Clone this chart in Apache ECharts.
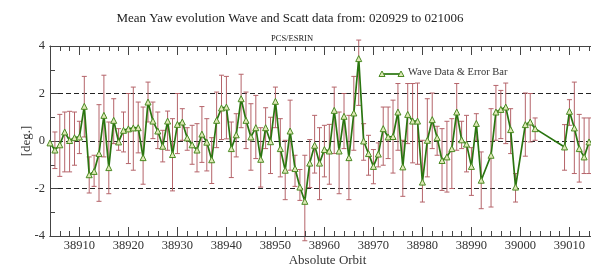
<!DOCTYPE html>
<html>
<head>
<meta charset="utf-8">
<script src="https://cdn.jsdelivr.net/npm/echarts@6/dist/echarts.min.js"></script>
<style>html,body{margin:0;padding:0;background:#fff;}#c{width:591px;height:268px;}</style>
</head>
<body>
<div id="c"></div>
<script>
var orbits = [38904,38905,38906,38907,38908,38909,38910,38911,38912,38913,38914,38915,38916,38917,38918,38919,38920,38921,38922,38923,38924,38925,38926,38927,38928,38929,38930,38931,38932,38933,38934,38935,38936,38937,38938,38939,38940,38941,38942,38943,38944,38945,38946,38947,38948,38949,38950,38951,38952,38953,38954,38955,38956,38957,38958,38959,38960,38961,38962,38963,38964,38965,38966,38967,38968,38969,38970,38971,38972,38973,38974,38975,38976,38977,38978,38979,38980,38981,38982,38983,38984,38985,38986,38987,38988,38989,38990,38991,38992,38994,38995,38996,38997,38998,38999,39001,39002,39003,39009,39010,39011,39012,39013,39014];
var yaw = [-0.08,-0.38,-0.16,0.38,0.02,0.14,0.17,1.46,-1.42,-1.28,-0.53,1.08,-1.12,0.87,-0.04,0.45,0.51,0.55,0.56,-0.70,1.64,0.84,0.42,-0.22,0.84,-0.57,0.70,0.80,0.13,-0.16,-0.38,0.29,-0.05,-0.79,0.87,1.39,1.43,-0.32,0.26,1.78,0.87,0.17,0.56,-0.77,0.56,-0.03,1.67,-0.32,-1.23,0.42,-1.16,-1.94,-2.54,-0.93,-0.18,-0.93,-0.36,-0.42,1.29,-0.42,1.04,-0.70,1.18,3.47,0.00,-0.53,-1.07,-0.55,0.52,0.17,0.19,1.22,-1.09,1.12,0.84,0.84,-1.73,0.03,0.90,0.14,-0.82,-0.67,-0.32,1.22,0.05,-0.13,-1.07,0.74,-1.65,-0.60,1.22,1.33,1.43,0.48,-1.94,0.69,0.80,0.52,-0.25,1.25,0.55,-0.32,-0.67,-0.04];
var errHigh = [null,0.38,1.12,1.22,1.25,1.22,0.83,2.72,-0.67,-0.60,1.53,2.77,0.80,1.78,0.52,1.22,2.00,2.27,1.64,1.43,2.48,1.64,1.22,0.45,1.26,0.94,2.00,1.36,0.56,0.66,0.73,1.45,0.94,0.14,2.06,2.77,2.72,0.80,1.15,2.81,2.06,1.57,1.92,0.56,1.40,1.00,2.27,0.94,0.03,1.72,-0.60,-1.20,-0.60,0.06,1.08,0.56,0.66,0.70,2.27,1.22,2.00,1.08,2.72,4.25,0.73,0.24,-0.36,-0.08,1.43,1.43,1.72,2.42,0.03,2.42,2.42,2.44,0.03,1.78,2.02,0.62,0.52,0.83,0.94,2.42,0.83,1.08,-0.28,1.15,-0.46,1.36,2.34,2.13,2.44,1.36,-1.37,2.02,2.00,0.97,0.69,1.74,2.48,1.12,0.97,0.97];
var errLow = [null,-1.16,-1.49,-1.30,-1.30,-1.02,-0.53,0.17,-2.19,-1.91,-2.54,-0.67,-2.22,-0.11,-0.39,-0.46,-0.95,-1.23,-0.50,-1.82,0.80,0.10,-0.32,-0.88,-0.39,-2.10,-0.53,0.03,-0.39,-0.98,-1.30,-0.90,-1.26,-1.79,-0.28,0.06,0.09,-1.54,-0.67,0.56,-0.32,-1.23,-0.74,-1.94,-0.32,-1.37,0.56,-1.51,-2.47,-1.23,-1.91,-2.50,-4.20,-1.96,-1.35,-2.47,-1.51,-1.82,-0.53,-2.22,-0.32,-2.47,-0.39,1.50,-0.81,-1.44,-1.80,-1.09,-1.02,-0.74,-1.35,-0.39,-2.33,-0.11,-0.92,-0.98,-2.57,-1.51,-0.32,-0.60,-2.08,-2.15,-2.00,-0.39,-0.32,-1.30,-2.29,0.03,-2.85,-2.78,0.03,0.10,-0.11,-0.53,-2.57,-0.64,-0.04,0.03,-1.23,0.66,-1.37,-1.73,-1.37,-1.37];
var yTicks = [-4, -2, 0, 2, 4];
var titleText = 'Mean Yaw evolution Wave and Scatt data from: 020929 to 021006';
var subtitleText = 'PCS/ESRIN';
var xName = 'Absolute Orbit';
var yName = '[deg.]';
var seriesName = 'Wave Data & Error Bar';

var lineData = orbits.map(function (o, i) { return [o, yaw[i]]; });
var errData = [];
orbits.forEach(function (o, i) { if (errHigh[i] !== null) errData.push([o, errHigh[i], errLow[i]]); });

var FONT = 'Liberation Serif';
var XMIN = 38904, XMAX = 39014.4;
var axisCol = '#444';
function xAx(pos, major, showLabel) {
  var a = {
    type: 'value', position: pos, min: XMIN, max: XMAX,
    axisLine: { show: true, onZero: false, lineStyle: { color: axisCol, width: 1 } },
    axisTick: { show: true, inside: true, length: major ? 9 : 5, lineStyle: { color: axisCol } },
    splitLine: { show: false },
    axisLabel: { show: showLabel, fontFamily: FONT, fontSize: 12.5, color: '#333', margin: 3,
      showMinLabel: false, showMaxLabel: false,
      formatter: function (v) { return String(Math.round(v)); } },
    z: 5
  };
  if (major) { a.splitNumber = 11; } else { a.interval = 2; }
  if (showLabel) {
    a.name = xName; a.nameLocation = 'middle'; a.nameGap = 18; a.nameMoveOverlap = false;
    a.nameTextStyle = { fontFamily: FONT, fontSize: 13, color: '#333', padding: [0, 0, 0, 14] };
  }
  return a;
}

var chart = echarts.init(document.getElementById('c'), null, { renderer: 'canvas' });
chart.setOption({
  animation: false,
  backgroundColor: '#fff',
  title: [
    { text: titleText, left: 285, top: 7, textAlign: 'center',
      textStyle: { fontFamily: FONT, fontSize: 13, fontWeight: 'normal', color: '#222' } },
    { text: subtitleText, left: 287, top: 29, textAlign: 'center',
      textStyle: { fontFamily: FONT, fontSize: 8.5, fontWeight: 'normal', color: '#222' } }
  ],
  grid: { left: 50, right: 0, top: 46, bottom: 32, containLabel: false, outerBoundsMode: 'none' },
  xAxis: [
    xAx('bottom', false, false),
    xAx('bottom', true, true),
    xAx('top', false, false),
    xAx('top', true, false)
  ],
  yAxis: {
    type: 'value', min: yTicks[0], max: yTicks[yTicks.length - 1], interval: 2,
    name: yName, nameLocation: 'middle', nameGap: 17, nameMoveOverlap: false,
    nameTextStyle: { fontFamily: FONT, fontSize: 13, color: '#333' },
    axisLine: { show: true, lineStyle: { color: axisCol } },
    axisTick: { show: true, inside: true, length: 8, lineStyle: { color: axisCol } },
    minorTick: { show: true, splitNumber: 2, length: 5, lineStyle: { color: axisCol } },
    axisLabel: { fontFamily: FONT, fontSize: 12.5, color: '#333', margin: 5 },
    splitLine: { show: true, lineStyle: { color: '#222', type: [5, 3], width: 1 } }
  },
  series: [
    {
      type: 'custom', name: 'err', xAxisIndex: 0, clip: false, z: 2,
      data: errData,
      renderItem: function (params, api) {
        var x = api.value(0);
        var top = api.coord([x, api.value(1)]);
        var bot = api.coord([x, api.value(2)]);
        var hw = 2.5;
        var st = { stroke: '#b5646a', lineWidth: 1 };
        return { type: 'group', children: [
          { type: 'line', shape: { x1: top[0], y1: top[1], x2: bot[0], y2: bot[1] }, style: st },
          { type: 'line', shape: { x1: top[0] - hw, y1: top[1], x2: top[0] + hw, y2: top[1] }, style: st },
          { type: 'line', shape: { x1: bot[0] - hw, y1: bot[1], x2: bot[0] + hw, y2: bot[1] }, style: st }
        ] };
      }
    },
    {
      type: 'line', name: seriesName, xAxisIndex: 0, data: lineData, z: 3,
      symbol: 'triangle', symbolSize: 6, showAllSymbol: true,
      lineStyle: { color: '#2a7510', width: 1.7 },
      itemStyle: { color: '#dfe9b8', borderColor: '#4a8a22', borderWidth: 1 }
    }
  ],
  graphic: [
    { type: 'line', shape: { x1: 382, y1: 74, x2: 401, y2: 74 }, style: { stroke: '#2a7510', lineWidth: 1.7 }, z: 10 },
    { type: 'polygon', shape: { points: [[382, 71], [385, 76.5], [379, 76.5]] }, style: { fill: '#dfe9b8', stroke: '#4a8a22', lineWidth: 1 }, z: 11 },
    { type: 'polygon', shape: { points: [[401, 71], [404, 76.5], [398, 76.5]] }, style: { fill: '#dfe9b8', stroke: '#4a8a22', lineWidth: 1 }, z: 11 },
    { type: 'text', left: 408, top: 67, style: { text: seriesName, font: '10.5px "Liberation Serif"', fill: '#333' }, z: 11 }
  ]
});
</script>
</body>
</html>
